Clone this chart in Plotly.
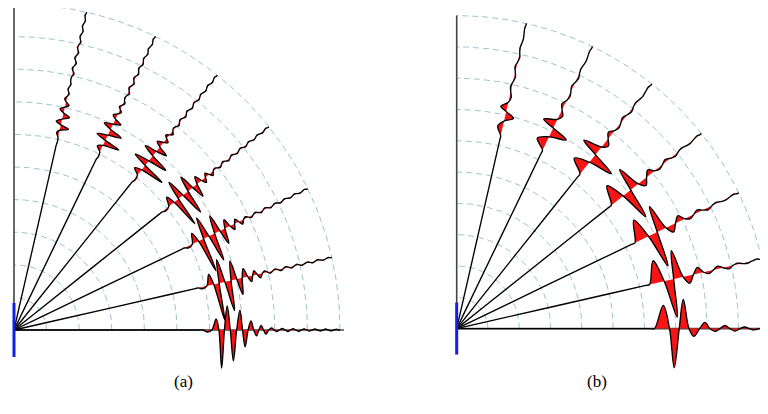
import numpy as np
import plotly.graph_objects as go

# ---------------- data ----------------
angles_deg = [0.0, 12.86, 25.71, 38.57, 51.43, 64.29, 77.14]   # receiver directions
trace_length = 10.0
grid_radii = [1, 2, 3, 4, 5, 6, 7, 8, 9, 10]
amp_scale = [1.00, 0.97, 0.90, 0.78, 0.62, 0.43, 0.22]          # relative wavelet size per trace
coda_scale_a = [1.0, 1.0, 1.0, 1.0, 1.0, 1.0, 1.0]
coda_scale_b = [1.0, 0.9, 0.8, 0.7, 0.6, 0.5, 0.45]

# panel (a): dispersed wavelet on the 0 deg trace (radius, amplitude)
wave_r_a = [5.0, 5.70, 5.80, 5.92, 6.07, 6.20, 6.285, 6.37, 6.455, 6.54, 6.635, 6.73, 6.83, 6.93,
            7.01, 7.09, 7.18, 7.27, 7.355, 7.44, 7.51, 7.58, 7.655, 7.73, 7.815, 7.90, 7.98]
wave_amp_a = [0, 0, 0, -0.06, 0, 0.34, 0, -1.17, 0, 0.74, 0, -0.95, 0, 0.61,
              0, -0.52, 0, 0.28, 0, -0.18, 0, 0.14, 0, -0.13, 0, 0.06, 0]
coda_r_a = [8.06, 8.14, 8.23, 8.31, 8.40, 8.48, 8.56, 8.645, 8.73, 8.815, 8.90, 8.98,
            9.06, 9.145, 9.23, 9.315, 9.40, 9.48, 9.56, 9.645, 9.73, 9.815, 9.90, 9.95, 10.0]
coda_amp_a = [-0.05, 0, 0.045, 0, -0.045, 0, 0.04, 0, -0.04, 0, 0.035, 0,
              -0.035, 0, 0.03, 0, -0.03, 0, 0.03, 0, -0.025, 0, 0.025, 0, 0]

# panel (b): clean wavelet on the 0 deg trace
wave_r_b = [5.0, 6.20, 6.32, 6.60, 6.80, 6.95, 7.11, 7.24, 7.42, 7.58, 7.76, 7.93, 8.09]
wave_amp_b = [0, 0, 0, 0.74, 0, -1.25, 0, 0.93, 0, -0.25, 0, 0.20, 0]
coda_r_b = [8.25, 8.41, 8.57, 8.73, 8.90, 9.05, 9.20, 9.35, 9.50, 9.67, 9.85, 9.93, 10.0]
coda_amp_b = [-0.09, 0, 0.10, 0, -0.08, 0, 0.05, 0, -0.04, 0, 0.04, 0, 0]

panel_labels = ["(a)", "(b)"]

# ---------------- styling ----------------
RED = "#f81414"
GRID = "#9fc4c8"
AXIS = "#444444"
BLUE = "#1020e8"
LABEL_FONT = dict(family="Liberation Serif", size=17, color="black")

fig = go.Figure()


def add_panel(xa, ya, wave_r, wave_amp, coda_r, coda_amp, coda_scale):
    # dashed concentric arcs
    th = np.radians(np.linspace(0, 90, 181))
    for rad in grid_radii:
        fig.add_trace(go.Scatter(x=rad * np.cos(th), y=rad * np.sin(th), mode="lines",
                                 line=dict(color=GRID, width=1, dash="6px,4px"),
                                 hoverinfo="skip", showlegend=False, xaxis=xa, yaxis=ya))
    # axes
    fig.add_trace(go.Scatter(x=[0, 0], y=[0, trace_length], mode="lines",
                             line=dict(color=AXIS, width=1.6), showlegend=False,
                             hoverinfo="skip", xaxis=xa, yaxis=ya))
    fig.add_trace(go.Scatter(x=[0, trace_length + 0.12], y=[0, 0], mode="lines",
                             line=dict(color=AXIS, width=1.6), showlegend=False,
                             hoverinfo="skip", xaxis=xa, yaxis=ya))
    # wiggle traces
    for k in range(len(angles_deg) - 1, -1, -1):
        t = np.radians(angles_deg[k])
        r = np.array([0.0, 1.0] + list(wave_r) + list(coda_r))
        a = np.array([0.0, 0.0] + [v * amp_scale[k] for v in wave_amp] +
                     [v * coda_scale[k] for v in coda_amp])
        x = r * np.cos(t) - a * np.sin(t)
        y = r * np.sin(t) + a * np.cos(t)
        fig.add_trace(go.Scatter(x=x, y=y, mode="lines", fill="toself", fillcolor=RED,
                                 line=dict(color="black", width=1.35, shape="spline", smoothing=1.0,
                                           simplify=False),
                                 showlegend=False, hoverinfo="skip", xaxis=xa, yaxis=ya))
    # source (blue bar)
    fig.add_trace(go.Scatter(x=[0, 0], y=[-0.83, 0.83], mode="lines",
                             line=dict(color=BLUE, width=3), showlegend=False,
                             hoverinfo="skip", xaxis=xa, yaxis=ya))


add_panel("x", "y", wave_r_a, wave_amp_a, coda_r_a, coda_amp_a, coda_scale_a)
add_panel("x2", "y2", wave_r_b, wave_amp_b, coda_r_b, coda_amp_b, coda_scale_b)

# the page body has an 8px default margin: figure is 760x406 placed at (8, 8)
OFF = 8
W, H = 768 - OFF, 414 - OFF
SPLIT = 384 - OFF
sa, sb = 32.6, 31.3                    # pixels per unit
oa = (14.0 - OFF, 330.0 - OFF)         # origin pixel of panel (a)
ob = (456.7 - OFF, 328.6 - OFF)        # origin pixel of panel (b)

ax_common = dict(visible=False, showgrid=False, zeroline=False, fixedrange=True)
fig.update_layout(
    width=W, height=H, margin=dict(l=0, r=0, t=0, b=0),
    paper_bgcolor="white", plot_bgcolor="white",
    xaxis=dict(domain=[0, SPLIT / W], range=[-oa[0] / sa, (SPLIT - oa[0]) / sa], **ax_common),
    yaxis=dict(domain=[0, 1], range=[-(H - oa[1]) / sa, oa[1] / sa], **ax_common),
    xaxis2=dict(domain=[SPLIT / W, 1], range=[-(ob[0] - SPLIT) / sb, (W - ob[0]) / sb], **ax_common),
    yaxis2=dict(domain=[0, 1], range=[-(H - ob[1]) / sb, ob[1] / sb], **ax_common),
    annotations=[
        dict(text=panel_labels[0], x=(183 - OFF) / W, y=1 - (381 - OFF) / H, xref="paper", yref="paper",
             xanchor="center", yanchor="middle", showarrow=False, font=LABEL_FONT),
        dict(text=panel_labels[1], x=(597 - OFF) / W, y=1 - (381 - OFF) / H, xref="paper", yref="paper",
             xanchor="center", yanchor="middle", showarrow=False, font=LABEL_FONT),
    ],
)

fig.write_html("out.html")
